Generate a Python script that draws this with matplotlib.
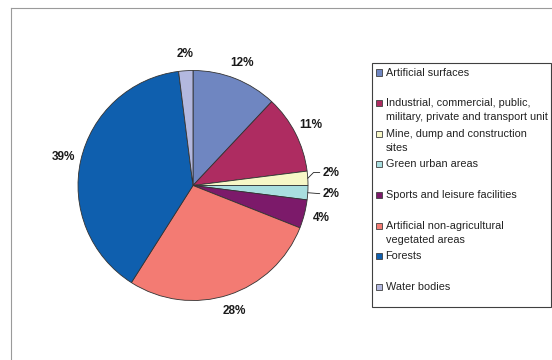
import matplotlib
matplotlib.use('Agg')
import matplotlib.pyplot as plt
from matplotlib.patches import Rectangle
from matplotlib.lines import Line2D
import numpy as np

plt.rcParams['font.family'] = ['Liberation Sans', 'DejaVu Sans']

# land cover shares (%), clockwise from 12 o'clock
labels = ['Artificial surfaces',
          'Industrial, commercial, public,\nmilitary, private and transport unit',
          'Mine, dump and construction\nsites',
          'Green urban areas',
          'Sports and leisure facilities',
          'Artificial non-agricultural\nvegetated areas',
          'Forests',
          'Water bodies']
values = [12, 11, 2, 2, 4, 28, 39, 2]
colors = ['#6F86C1', '#AE2C61', '#F7F7C7', '#A9DEDF',
          '#7C1A6A', '#F37B73', '#0F5FAE', '#B3B8DF']

W, H = 552, 360
fig = plt.figure(figsize=(W / 100, H / 100), dpi=100)

def px(x, y):
    # pixel (from top-left) -> figure fraction
    return x / W, 1 - y / H

# outer chart frame (left and top visible)
fig.add_artist(Line2D([11 / W, 11 / W], [0, 1 - 7.5 / H], color='#9A9A9A', lw=0.8))
fig.add_artist(Line2D([11 / W, 1], [1 - 7.5 / H, 1 - 7.5 / H], color='#9A9A9A', lw=0.8))

# pie
cx, cy, r = 193, 185.5, 115
ax = fig.add_axes([(cx - r) / W, (H - cy - r) / H, 2 * r / W, 2 * r / H])
wedges, _ = ax.pie(values, colors=colors, startangle=90, counterclock=False,
                   wedgeprops=dict(edgecolor='#333333', linewidth=0.6))
ax.set_xlim(-1, 1)
ax.set_ylim(-1, 1)
ax.axis('off')

total = sum(values)
for i, (w, v) in enumerate(zip(wedges, values)):
    ang = np.deg2rad((w.theta1 + w.theta2) / 2)
    txt = '%d%%' % round(100 * v / total)
    if i in (2, 3):
        # small slices on the right: label pushed out with a leader line
        xy = (np.cos(ang), np.sin(ang))
        xt = 138 / r
        yt = xy[1] + (0.05 if i == 2 else -0.01)
        ax.annotate(txt, xy=xy, xytext=(xt, yt), ha='center', va='center',
                    fontsize=8.5, fontweight='bold', color='#1a1a1a',
                    arrowprops=dict(arrowstyle='-', color='#222222', lw=0.6,
                                    shrinkA=0, shrinkB=0, relpos=(0, 0.5),
                                    connectionstyle='angle,angleA=180,angleB=45,rad=0'
                                    if i == 2 else 'arc3'))
    else:
        d = 1.15
        ax.text(d * np.cos(ang), d * np.sin(ang), txt, ha='center', va='center',
                fontsize=8.5, fontweight='bold', color='#1a1a1a')

# legend box (Excel style, fixed slot per entry)
x0, y0 = px(372, 307)
x1, y1 = px(551, 63)
fig.add_artist(Rectangle((x0, y0), x1 - x0, y1 - y0, transform=fig.transFigure,
                         facecolor='white', edgecolor='#404040', lw=0.8))
for i, (lab, c) in enumerate(zip(labels, colors)):
    yi = 72.5 + i * 30.6
    mx, my = px(376, yi + 3)
    fig.add_artist(Rectangle((mx, my), 6 / W, 6 / H, transform=fig.transFigure,
                             facecolor=c, edgecolor='#404040', lw=0.6))
    tx, ty = px(385.5, yi - 5)
    fig.text(tx, ty, lab, ha='left', va='top', fontsize=7.8, color='#222222',
             linespacing=1.5)

fig.savefig('out.png', dpi=100)
